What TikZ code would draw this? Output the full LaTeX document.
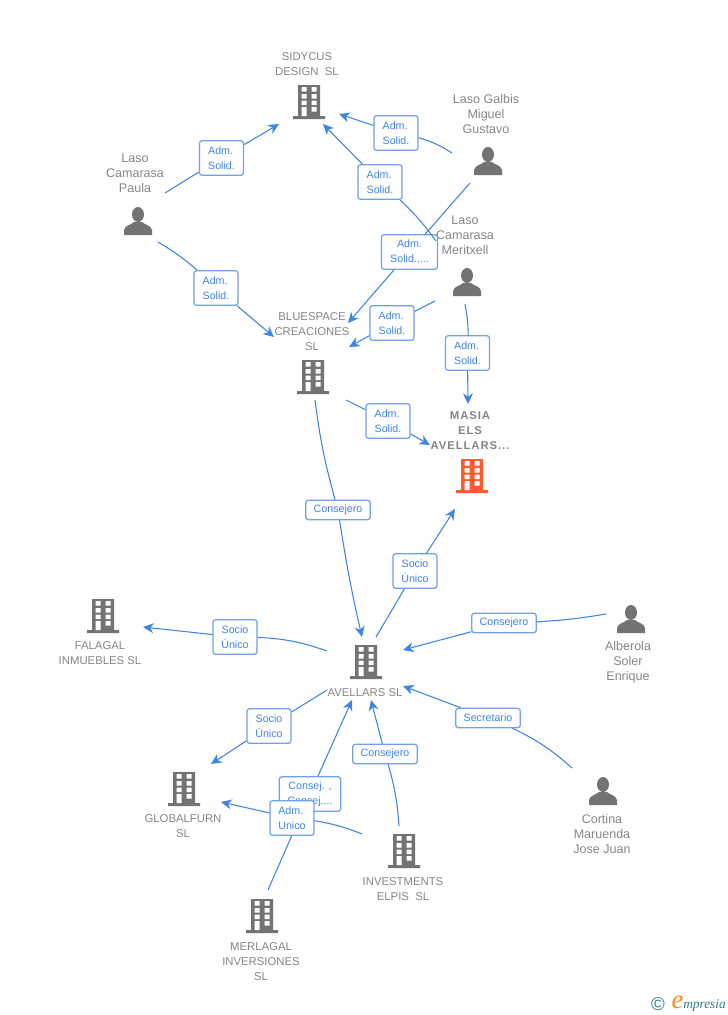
\documentclass[tikz,border=0pt]{standalone}
\usepackage{fontspec}
\setmainfont{Liberation Sans}
\newfontfamily\masiafont[LetterSpace=8]{Liberation Sans}
\newfontfamily\logofont{Liberation Serif}
\usetikzlibrary{arrows.meta}
\definecolor{linkblue}{HTML}{3F84E0}
\definecolor{boxblue}{HTML}{6FA2EA}
\definecolor{iconshade}{HTML}{737373}
\definecolor{labelgrey}{HTML}{858585}
\definecolor{hotorange}{HTML}{FF5B2E}
\definecolor{logoteal}{HTML}{2F7A8C}
\definecolor{logoorange}{HTML}{F28A1E}
\tikzset{
	company/.style={text=labelgrey,align=center,inner sep=0pt,font=\fontsize{8.5}{11.25}\selectfont},
	person/.style={text=labelgrey,align=center,inner sep=0pt,font=\fontsize{9.4}{11.25}\selectfont},
	rolebox/.style={draw=boxblue,fill=white,line width=0.95pt,rounded corners=2pt,text=linkblue,inner sep=0pt,
		font=\fontsize{8}{11.25}\selectfont,minimum width=33pt,minimum height=26pt},
	rolewide/.style={rolebox,minimum width=48.5pt,minimum height=14.5pt},
	link/.style={draw=linkblue,line width=0.8pt},
	pics/building/.style={code={
		\fill[#1] (-11,-17) rectangle (11,14) (-16,14) rectangle (16,17);
		\foreach \rowy in {-15,-8,-1.5}
			\fill[white] (-7.5,\rowy) rectangle (-2.5,\rowy+4.5) (2.5,\rowy) rectangle (7.5,\rowy+4.5);
		\fill[white] (-7.5,5) rectangle (-2.5,14) (2.5,5) rectangle (7.5,9.5);
	}},
	pics/figure/.style={code={
		\fill[iconshade] (0,-6.5) ellipse (6 and 7.5);
		\fill[iconshade] (-14,14) -- (-14,9) .. controls (-13,4) and (-7,4) .. (-4,1) -- (4,1)
			.. controls (7,4) and (13,4) .. (14,9) -- (14,14) -- cycle;
	}}
}
\begin{document}
\begin{tikzpicture}[x=0.75pt,y=-0.75pt,>={Stealth[length=8pt,width=7.5pt,inset=2.5pt]}]
	\useasboundingbox (0,0) rectangle (728,1015);
	% companies
	\node[company] (sidycus) at (307,64.5) {SIDYCUS\\DESIGN\ \ SL};
	\node[company] (bluespace) at (312,332) {BLUESPACE\\CREACIONES\\SL};
	\node[company,font=\fontsize{8.5}{11.25}\masiafont\bfseries] (masia) at (470,431) {MASIA\\ELS\\AVELLARS...};
	\node[company] (avellars) at (365,693) {AVELLARS SL};
	\node[company] (falagal) at (100,653.5) {FALAGAL\\INMUEBLES SL};
	\node[company] (globalfurn) at (183,826.5) {GLOBALFURN\\SL};
	\node[company] (investments) at (403,889.5) {INVESTMENTS\\ELPIS\ \ SL};
	\node[company] (merlagal) at (261,962) {MERLAGAL\\INVERSIONES\\SL};
	% people
	\node[person] (paula) at (135,173) {Laso\\Camarasa\\Paula};
	\node[person] (galbis) at (486,114) {Laso Galbis\\Miguel\\Gustavo};
	\node[person] (meritxell) at (465,235) {Laso\\Camarasa\\Meritxell};
	\node[person] (alberola) at (628,662) {Alberola\\Soler\\Enrique};
	\node[person] (cortina) at (602,834) {Cortina\\Maruenda\\Jose Juan};
	% icons
	\pic at (309,102) {building=iconshade};
	\pic at (313,377) {building=iconshade};
	\pic at (472,476) {building=hotorange};
	\pic at (366,662) {building=iconshade};
	\pic at (103,616) {building=iconshade};
	\pic at (184,789) {building=iconshade};
	\pic at (404,851) {building=iconshade};
	\pic at (262,916) {building=iconshade};
	\pic at (138,221) {figure};
	\pic at (488,161) {figure};
	\pic at (467,282) {figure};
	\pic at (631,619) {figure};
	\pic at (603,791) {figure};
	% free ends
	\coordinate (paulaOutA) at (165,193);
	\coordinate (paulaOutB) at (158,242);
	\coordinate (galbisOutA) at (452,153);
	\coordinate (galbisOutB) at (470,183);
	\coordinate (meritOutA) at (436,241);
	\coordinate (meritOutB) at (435,301);
	\coordinate (meritOutC) at (465,304);
	\coordinate (blueOutA) at (346,400);
	\coordinate (blueOutB) at (315,400);
	\coordinate (aveOutA) at (376,637);
	\coordinate (aveOutB) at (327,651);
	\coordinate (aveOutC) at (327,690);
	\coordinate (alberolaOut) at (606,614);
	\coordinate (cortinaOut) at (572,768);
	\coordinate (investOutA) at (399,826);
	\coordinate (investOutB) at (362,834);
	\coordinate (merlaOut) at (268,890);
	\coordinate (sidyInA) at (279,124);
	\coordinate (sidyInB) at (339,114);
	\coordinate (sidyInC) at (323,124);
	\coordinate (blueInA) at (274,337);
	\coordinate (blueInB) at (348,323);
	\coordinate (blueInC) at (349,347);
	\coordinate (masiaInA) at (468,404);
	\coordinate (masiaInB) at (430,445);
	\coordinate (masiaInC) at (455,509);
	\coordinate (aveInA) at (362,637);
	\coordinate (aveInB) at (403,650);
	\coordinate (aveInC) at (403,686);
	\coordinate (aveInD) at (371,700);
	\coordinate (aveInE) at (352,700);
	\coordinate (falaIn) at (143,627);
	\coordinate (globalInA) at (211,764);
	\coordinate (globalInB) at (221,802);
	% role boxes
	\node[rolebox,align=left] (paulaSidy) at (221.5,158) {Adm.\\Solid.};
	\node[rolebox,align=left] (paulaBlue) at (216,288) {Adm.\\Solid.};
	\node[rolebox,align=left] (galbisSidy) at (396,133) {Adm.\\Solid.};
	\node[rolebox,align=left] (meritSidy) at (380,182) {Adm.\\Solid.};
	\node[rolebox,align=center,minimum width=42pt] (galbisBlue) at (409.5,252) {Adm.\\Solid.,...};
	\node[rolebox,align=left] (meritBlue) at (392,323) {Adm.\\Solid.};
	\node[rolebox,align=left] (meritMasia) at (467.5,353) {Adm.\\Solid.};
	\node[rolebox,align=left] (blueMasia) at (388,421) {Adm.\\Solid.};
	\node[rolewide] (blueAve) at (338,510) {Consejero};
	\node[rolebox,align=center] (aveMasia) at (415,571) {Socio\\Único};
	\node[rolewide] (alberolaAve) at (504,623) {Consejero};
	\node[rolewide] (cortinaAve) at (488,718) {Secretario};
	\node[rolebox,align=center] (aveFala) at (235,637) {Socio\\Único};
	\node[rolebox,align=center] (aveGlobal) at (269,726) {Socio\\Único};
	\node[rolewide] (investAve) at (385,754) {Consejero};
	\node[rolebox,align=center,minimum width=46pt] (merlaAve) at (310,794) {Consej. ,\\Consej....};
	% links
	\draw[link] (paulaOutA) -- (paulaSidy);
	\draw[link,->] (paulaSidy) -- (sidyInA);
	\draw[link] (paulaOutB) to[bend left=5] (paulaBlue);
	\draw[link,->] (paulaBlue) -- (blueInA);
	\draw[link] (galbisOutA) to[bend right=8] (galbisSidy);
	\draw[link,->] (galbisSidy) -- (sidyInB);
	\draw[link,->] (meritSidy) -- (sidyInC);
	\draw[link] (galbisOutB) -- (galbisBlue);
	\draw[link,->] (galbisBlue) -- (blueInB);
	\draw[link] (meritOutA) to[bend right=5] (meritSidy);
	\draw[link] (meritOutB) -- (meritBlue);
	\draw[link,->] (meritBlue) -- (blueInC);
	\draw[link] (meritOutC) to[bend left=5] (meritMasia);
	\draw[link,->] (meritMasia) -- (masiaInA);
	\draw[link] (blueOutA) -- (blueMasia);
	\draw[link,->] (blueMasia) -- (masiaInB);
	\draw[link] (blueOutB) to[bend right=4] (blueAve);
	\draw[link,->] (blueAve) to[bend right=2] (aveInA);
	\draw[link] (aveOutA) -- (aveMasia);
	\draw[link,->] (aveMasia) -- (masiaInC);
	\draw[link] (alberolaOut) to[bend left=3] (alberolaAve);
	\draw[link,->] (alberolaAve) -- (aveInB);
	\draw[link] (cortinaOut) to[bend right=8] (cortinaAve);
	\draw[link,->] (cortinaAve) -- (aveInC);
	\draw[link] (aveOutB) to[bend right=8] (aveFala);
	\draw[link,->] (aveFala) -- (falaIn);
	\draw[link] (aveOutC) -- (aveGlobal);
	\draw[link,->] (aveGlobal) -- (globalInA);
	\draw[link] (investOutA) to[bend right=6] (investAve);
	\draw[link,->] (investAve) -- (aveInD);
	\draw[link] (merlaOut) -- (merlaAve);
	\draw[link,->] (merlaAve) -- (aveInE);
	% this one sits over the box behind it
	\node[rolebox,align=left] (investGlobal) at (292,818) {Adm.\\Unico};
	\draw[link] (investOutB) to[bend right=6] (investGlobal);
	\draw[link,->] (investGlobal) -- (globalInB);
	% logo
	\node[inner sep=0pt,text=logoteal,font=\fontsize{14}{14}\selectfont] (logoC) at (658,1004) {©};
	\node[inner sep=0pt,text=logoorange,font=\fontsize{20}{20}\logofont\itshape] (logoE) at (677.5,1002) {e};
	\node[inner sep=0pt,anchor=west,text=logoteal,font=\fontsize{10}{10}\logofont\itshape] (logoT) at (683,1005) {mpresia};
\end{tikzpicture}
\end{document}
